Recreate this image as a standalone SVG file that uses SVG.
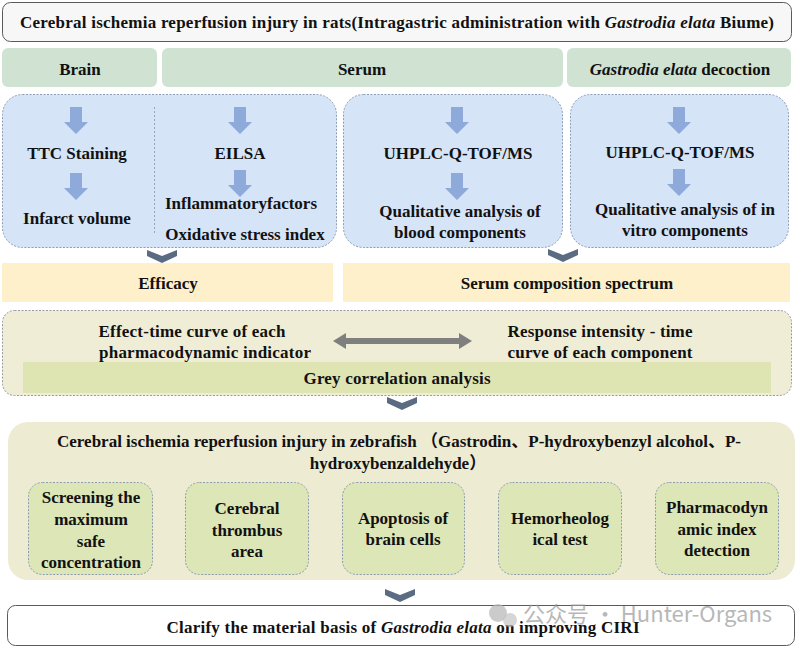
<svg xmlns="http://www.w3.org/2000/svg" width="800" height="649" viewBox="0 0 800 649">
<style>
text{font-family:"Liberation Serif","Noto Sans CJK SC",serif;font-weight:bold;fill:#111;text-anchor:middle}
.t17{font-size:17px}
.t16{font-size:17px}
.it{font-style:italic}
.hdr{fill:#d0e3d3}
.blue{fill:#d6e4f8;stroke:#8b9cb8;stroke-width:1;stroke-dasharray:2 1.5}
.barr{fill:#8eaadb}
.chev{fill:#5b6b82}
.yel{fill:#fdf0cb}
.beige{fill:#f0edd6}
.sub{fill:#dde6b6;stroke:#8b9cb0;stroke-width:1;stroke-dasharray:2 1.5}
.wm{font-family:"Noto Sans CJK SC","Noto Sans",sans-serif;font-weight:normal;fill:#9a9a9a;opacity:0.7;text-anchor:start;font-size:22px}
</style>
<defs>
<polygon id="da" points="-6,0 6,0 6,15 12,15 0,27 -12,15 -6,15"/>
<polygon id="cv" points="-15,0 0,6 15,0 15,6 0,13 -15,6"/>
</defs>

<g id="title">
<rect x="2.5" y="2.5" width="789" height="39" rx="8" fill="#f7f7f7" stroke="#5a5a5a" stroke-width="1"/>
<text class="t17" x="397" y="28" textLength="754">Cerebral ischemia reperfusion injury in rats(Intragastric administration with <tspan class="it">Gastrodia elata</tspan> Biume)</text>
</g>

<g id="hdr-brain">
<rect class="hdr" x="2" y="48" width="155" height="39" rx="6"/>
<text class="t16" x="80" y="75">Brain</text>
</g>
<g id="hdr-serum">
<rect class="hdr" x="162" y="48" width="401" height="39" rx="6"/>
<text class="t16" x="362" y="75">Serum</text>
</g>
<g id="hdr-decoction">
<rect class="hdr" x="567" y="48" width="224" height="39" rx="6"/>
<text class="t16" x="680" y="75"><tspan class="it">Gastrodia elata</tspan> decoction</text>
</g>

<g id="brain-box">
<rect class="blue" x="2.5" y="94.5" width="334" height="153" rx="20"/>
<line x1="154.5" y1="107" x2="154.5" y2="233" stroke="#9aa6b8" stroke-width="1" stroke-dasharray="2 2"/>
<use href="#da" x="76" y="107" class="barr"/>
<text class="t17" x="77" y="159">TTC  Staining</text>
<use href="#da" x="76" y="173" class="barr"/>
<text class="t17" x="77" y="224">Infarct volume</text>
<use href="#da" x="240" y="107" class="barr"/>
<text class="t17" x="240" y="159">EILSA</text>
<use href="#da" x="240" y="170" class="barr"/>
<text class="t17" x="241" y="209">Inflammatoryfactors</text>
<text class="t17" x="245" y="240">Oxidative stress index</text>
</g>

<g id="serum-box">
<rect class="blue" x="343.5" y="94.5" width="219" height="153" rx="20"/>
<use href="#da" x="457" y="107" class="barr"/>
<text class="t17" x="458" y="159">UHPLC-Q-TOF/MS</text>
<use href="#da" x="457" y="173" class="barr"/>
<text class="t17" x="460" y="217">Qualitative analysis of</text>
<text class="t17" x="460" y="238">blood components</text>
</g>

<g id="decoction-box">
<rect class="blue" x="570.5" y="94.5" width="218" height="153" rx="20"/>
<use href="#da" x="679" y="107" class="barr"/>
<text class="t17" x="680" y="158">UHPLC-Q-TOF/MS</text>
<use href="#da" x="679" y="169" class="barr"/>
<text class="t17" x="685" y="215">Qualitative analysis of in</text>
<text class="t17" x="685" y="236">vitro components</text>
</g>

<g id="efficacy">
<rect class="yel" x="2" y="263" width="331" height="39"/>
<text class="t17" x="168" y="289">Efficacy</text>
</g>
<g id="serum-spectrum">
<rect class="yel" x="343" y="263" width="447" height="39"/>
<text class="t17" x="567" y="289">Serum composition spectrum</text>
</g>

<g id="correlation">
<rect class="beige" x="2.5" y="310.5" width="789" height="85" rx="12" stroke="#999" stroke-width="1" stroke-dasharray="2 1.5"/>
<text class="t17" x="192" y="337" textLength="187">Effect-time curve of each</text>
<text class="t17" x="205" y="358" textLength="212">pharmacodynamic indicator</text>
<text class="t17" x="600" y="337" textLength="185">Response intensity - time</text>
<text class="t17" x="600" y="358" textLength="185">curve of each component</text>
<rect x="23" y="362" width="748" height="31" fill="#dfe4b3"/>
<text class="t17" x="397" y="384" textLength="187">Grey correlation analysis</text>
</g>

<g id="zebrafish">
<rect x="8" y="422" width="787" height="158" rx="20" fill="#eeebd3"/>
<text class="t17" x="399" y="447">Cerebral ischemia reperfusion injury in zebrafish （Gastrodin、P-hydroxybenzyl alcohol、P-</text>
<text class="t17" x="398" y="469">hydroxybenzaldehyde）</text>
</g>
<g id="z1">
<rect class="sub" x="28.5" y="482.5" width="124" height="92" rx="14"/>
<text class="t17" x="91" y="503">Screening the</text>
<text class="t17" x="91" y="525">maximum</text>
<text class="t17" x="91" y="547">safe</text>
<text class="t17" x="91" y="568">concentration</text>
</g>
<g id="z2">
<rect class="sub" x="185.5" y="482.5" width="123" height="92" rx="14"/>
<text class="t17" x="247" y="514">Cerebral</text>
<text class="t17" x="247" y="536">thrombus</text>
<text class="t17" x="247" y="557">area</text>
</g>
<g id="z3">
<rect class="sub" x="342.5" y="482.5" width="122" height="92" rx="14"/>
<text class="t17" x="403" y="524">Apoptosis of</text>
<text class="t17" x="403" y="545">brain cells</text>
</g>
<g id="z4">
<rect class="sub" x="498.5" y="482.5" width="123" height="92" rx="14"/>
<text class="t17" x="560" y="524">Hemorheolog</text>
<text class="t17" x="560" y="545">ical test</text>
</g>
<g id="z5">
<rect class="sub" x="655.5" y="482.5" width="123" height="92" rx="14"/>
<text class="t17" x="717" y="513">Pharmacodyn</text>
<text class="t17" x="717" y="535">amic index</text>
<text class="t17" x="717" y="556">detection</text>
</g>

<g id="conclusion">
<rect x="7.5" y="605.5" width="787" height="40" rx="8" fill="#fff" stroke="#5a5a5a" stroke-width="1"/>
<text class="t17" x="403" y="633" textLength="473">Clarify the material basis of <tspan class="it">Gastrodia elata</tspan> on improving CIRI</text>
</g>

<g id="connectors">
<use href="#cv" x="162" y="250" class="chev"/>
<use href="#cv" x="563" y="249" class="chev"/>
<polygon fill="#7f7f7f" points="333,341 346,333 346,338 459,338 459,333 472,341 459,349 459,344 346,344 346,349"/>
<use href="#cv" x="402" y="397" class="chev"/>
<use href="#cv" x="400" y="589" class="chev"/>
</g>

<g id="watermark">
<circle cx="498" cy="613" r="9" fill="#b5b5b5" opacity="0.7"/>
<circle cx="510" cy="620" r="7" fill="#c5c5c5" opacity="0.7"/>
<text class="wm" x="523" y="622">公众号 · Hunter-Organs</text>
</g>
</svg>
